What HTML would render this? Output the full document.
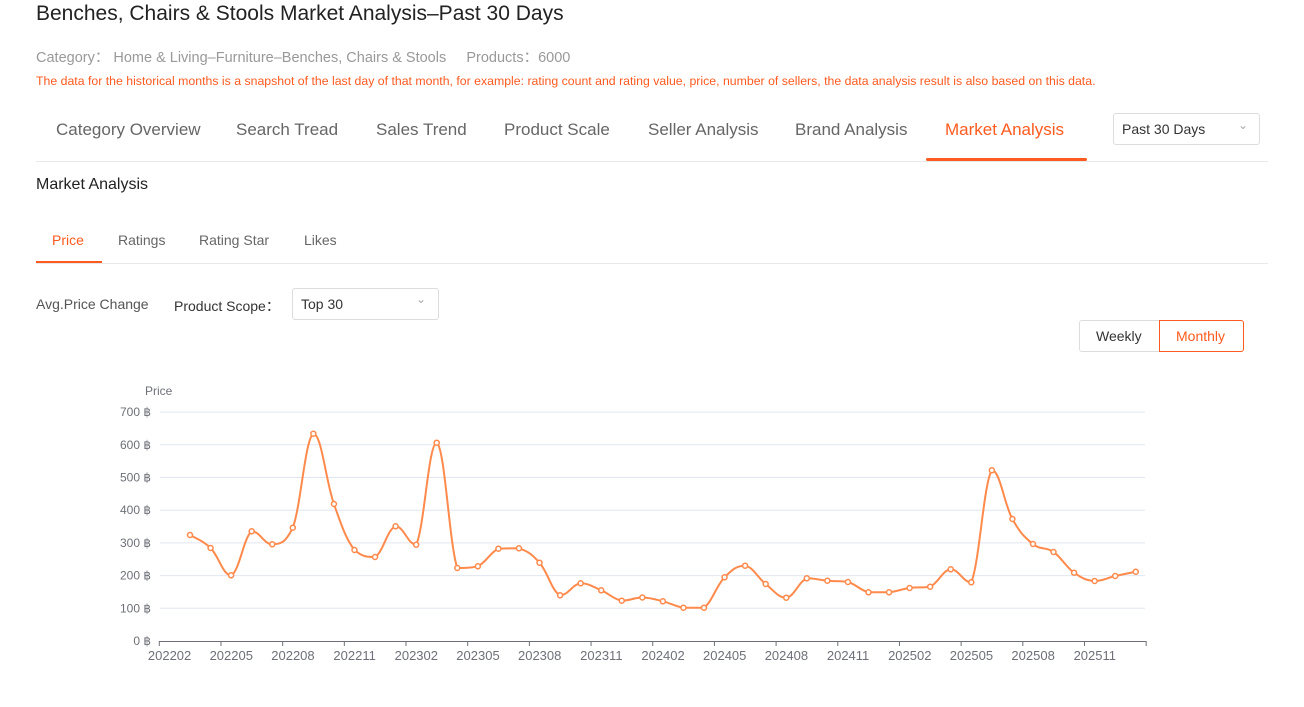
<!DOCTYPE html>
<html><head><meta charset="utf-8"><style>
*{margin:0;padding:0;box-sizing:border-box}
body{width:1304px;height:707px;background:#fff;font-family:"Liberation Sans",sans-serif;position:relative;overflow:hidden;color:#333}
.a{position:absolute;white-space:nowrap}
</style></head><body>
<div class="a" style="left:36px;top:2px;font-size:21px;color:#222">Benches, Chairs &amp; Stools Market Analysis–Past 30 Days</div>
<div class="a" style="left:36px;top:46px;font-size:14.5px;color:#999">Category：&nbsp;Home &amp; Living–Furniture–Benches, Chairs &amp; Stools&nbsp;&nbsp;&nbsp;&nbsp;&nbsp;Products：6000</div>
<div class="a" style="left:36px;top:74px;font-size:12.3px;color:#ff5a1f">The data for the historical months is a snapshot of the last day of that month, for example: rating count and rating value, price, number of sellers, the data analysis result is also based on this data.</div>
<div class="a" style="left:56px;top:120px;font-size:17px;color:#666">Category Overview</div>
<div class="a" style="left:236px;top:120px;font-size:17px;color:#666">Search Tread</div>
<div class="a" style="left:376px;top:120px;font-size:17px;color:#666">Sales Trend</div>
<div class="a" style="left:504px;top:120px;font-size:17px;color:#666">Product Scale</div>
<div class="a" style="left:648px;top:120px;font-size:17px;color:#666">Seller Analysis</div>
<div class="a" style="left:795px;top:120px;font-size:17px;color:#666">Brand Analysis</div>
<div class="a" style="left:945px;top:120px;font-size:17px;color:#ff5a1f">Market Analysis</div>
<div class="a" style="left:926px;top:158px;width:161px;height:3px;background:#ff5a1f;border-radius:2px"></div>
<div class="a" style="left:36px;top:161px;width:1232px;height:1px;background:#e8e8e8"></div>
<div class="a" style="left:1113px;top:113px;width:147px;height:32px;border:1px solid #ddd;border-radius:3px"></div>
<div class="a" style="left:1122px;top:121px;font-size:14px;color:#333">Past 30 Days</div>
<div class="a" style="left:1238px;top:118px;font-size:12px;color:#aaa">&#8964;</div>
<div class="a" style="left:36px;top:176px;font-size:16px;color:#222">Market Analysis</div>
<div class="a" style="left:52px;top:232px;font-size:14px;color:#ff5a1f">Price</div>
<div class="a" style="left:118px;top:232px;font-size:14px;color:#666">Ratings</div>
<div class="a" style="left:199px;top:232px;font-size:14px;color:#666">Rating Star</div>
<div class="a" style="left:304px;top:232px;font-size:14px;color:#666">Likes</div>
<div class="a" style="left:36px;top:261px;width:66px;height:3px;background:#ff5a1f"></div>
<div class="a" style="left:36px;top:263px;width:1232px;height:1px;background:#e8e8e8"></div>
<div class="a" style="left:36px;top:296px;font-size:14px;color:#555">Avg.Price Change</div>
<div class="a" style="left:174px;top:296px;font-size:14px;color:#333">Product Scope：</div>
<div class="a" style="left:292px;top:288px;width:147px;height:32px;border:1px solid #ddd;border-radius:3px"></div>
<div class="a" style="left:301px;top:296px;font-size:14px;color:#333">Top 30</div>
<div class="a" style="left:416px;top:292px;font-size:12px;color:#aaa">&#8964;</div>
<div class="a" style="left:1079px;top:320px;width:81px;height:32px;border:1px solid #ddd;border-radius:3px 0 0 3px"></div>
<div class="a" style="left:1096px;top:328px;font-size:14px;color:#333">Weekly</div>
<div class="a" style="left:1159px;top:320px;width:85px;height:32px;border:1px solid #ff5a1f;border-radius:0 3px 3px 0"></div>
<div class="a" style="left:1176px;top:328px;font-size:14px;color:#ff5a1f">Monthly</div>
<svg class="a" style="left:0;top:0" width="1304" height="707" id="s">
<g font-family="Liberation Sans, sans-serif" font-size="12" fill="#6e7079">
<text x="145" y="395">Price</text>
</g>
</svg>
<script>
var s=document.getElementById('s'),h='';
for(var i=0;i<=7;i++){var y=641-i*32.7;
 if(i>0)h+='<line x1="160" x2="1145" y1="'+y+'" y2="'+y+'" stroke="#e0e6f1"/>';
 h+='<text x="151" y="'+(y+4)+'" text-anchor="end" font-size="12" fill="#6e7079" font-family="Liberation Sans,sans-serif">'+(i*100)+' ฿</text>';}
h+='<line x1="159.3" x2="1146" y1="641.5" y2="641.5" stroke="#6e7079"/>';
var labs=['202202','202205','202208','202211','202302','202305','202308','202311','202402','202405','202408','202411','202502','202505','202508','202511'];
for(var i=0;i<=16;i++){var x=159.3+i*61.68;h+='<line x1="'+x+'" x2="'+x+'" y1="641" y2="646" stroke="#6e7079"/>';
 if(i<16)h+='<text x="'+(x+10.3)+'" y="660" text-anchor="middle" font-size="13" fill="#6e7079" font-family="Liberation Sans,sans-serif">'+labs[i]+'</text>';}
var ys=[535,548,575.3,531.3,544.3,527.7,433.7,504,550,557,526.3,544.7,442.7,568,566.3,548.7,548.3,562.7,595.3,583.3,590.3,600.7,597.5,601.3,607.7,607.7,577.3,565.7,584,597.7,578.3,580.7,582,592.3,592.3,588,586.7,569.3,582.3,470.3,519,544,552,572.7,581,576,571.7];
var p=ys.map(function(y,i){return [190+i*20.56,y]});
var d='M'+p[0][0]+','+p[0][1];
for(var i=0;i<p.length-1;i++){var a=p[i-1]||p[i],b=p[i],c=p[i+1],e=p[i+2]||c,k=0.2;
 var c1x=b[0]+(c[0]-a[0])*k,c1y=b[1]+(c[1]-a[1])*k,c2x=c[0]-(e[0]-b[0])*k,c2y=c[1]-(e[1]-b[1])*k;
 c1y=Math.max(Math.min(c1y,Math.max(b[1],c[1])),Math.min(b[1],c[1]));c2y=Math.max(Math.min(c2y,Math.max(b[1],c[1])),Math.min(b[1],c[1]));
 d+=' C'+c1x+','+c1y+' '+c2x+','+c2y+' '+c[0]+','+c[1];}
h+='<path d="'+d+'" fill="none" stroke="#ff8a4c" stroke-width="2"/>';
p.forEach(function(q){h+='<circle cx="'+q[0]+'" cy="'+q[1]+'" r="2.5" fill="#fff" stroke="#ff8a4c" stroke-width="1.5"/>';});
s.insertAdjacentHTML('beforeend',h);
</script>
</body></html>
